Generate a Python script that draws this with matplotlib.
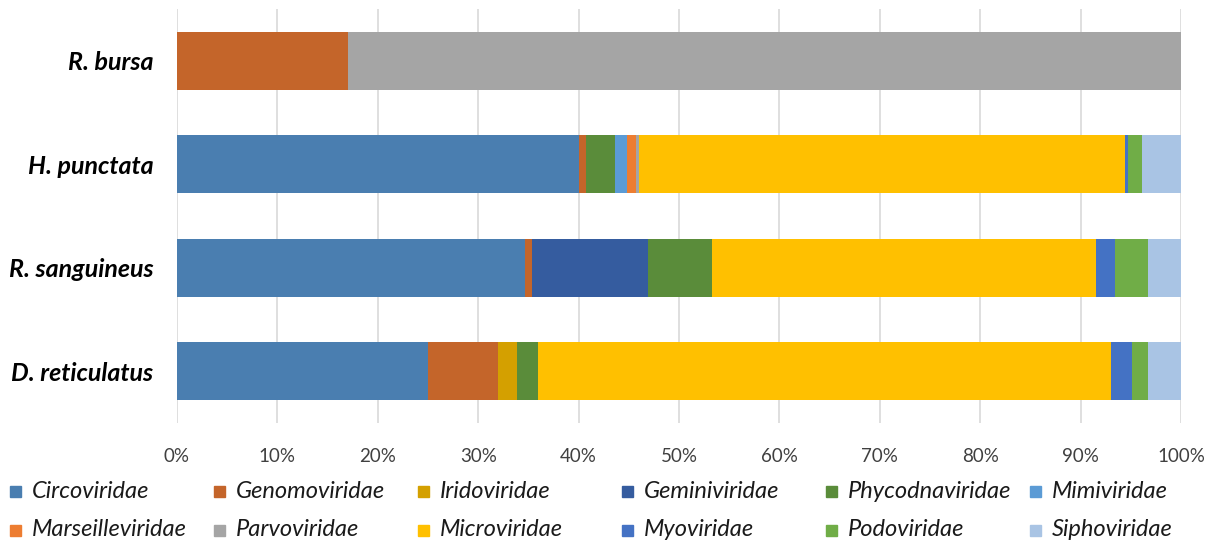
import numpy as np
import matplotlib.pyplot as plt
from matplotlib.patches import Rectangle

plt.rcParams['font.family'] = ['Lato', 'DejaVu Sans']

species = ['R. bursa', 'H. punctata', 'R. sanguineus', 'D. reticulatus']

# relative abundance (%) of each viral family, in the order of species above
families = ['Circoviridae', 'Genomoviridae', 'Iridoviridae', 'Geminiviridae',
            'Phycodnaviridae', 'Mimiviridae', 'Marseilleviridae', 'Parvoviridae',
            'Microviridae', 'Myoviridae', 'Podoviridae', 'Siphoviridae']
circo = [0, 40.0, 34.7, 25.0]
genomo = [17.0, 0.7, 0.7, 7.0]
irido = [0, 0, 0, 1.9]
gemini = [0, 0, 11.5, 0]
phyco = [0, 2.9, 6.4, 2.1]
mimi = [0, 1.2, 0, 0]
marseille = [0, 0.9, 0, 0]
parvo = [83.0, 0.3, 0, 0]
micro = [0, 48.4, 38.2, 57.0]
myo = [0, 0.3, 1.9, 2.1]
podo = [0, 1.4, 3.3, 1.6]
sipho = [0, 4.0, 3.3, 3.3]

values = [circo, genomo, irido, gemini, phyco, mimi, marseille, parvo,
          micro, myo, podo, sipho]
colors = ['#4A7EB0', '#C4652A', '#D4A000', '#355C9F', '#5A8C3A', '#5B9BD5',
          '#ED7D31', '#A5A5A5', '#FFC000', '#4472C4', '#70AD47', '#A9C4E4']

W, H = 1222, 544
fig = plt.figure(figsize=(W / 100, H / 100), dpi=100)
ax = fig.add_axes([177 / W, 1 - 423 / H, (1181 - 177) / W, (423 - 9) / H])

y = np.arange(len(species))
left = np.zeros(len(species))
for name, vals, c in zip(families, values, colors):
    vals = np.array(vals, dtype=float)
    ax.barh(y, vals, left=left, height=0.56, color=c, label=name, zorder=3)
    left += vals

ax.set_xlim(0, 100)
ax.set_ylim(3.5, -0.5)
ax.set_xticks(np.arange(0, 101, 10))
ax.set_xticklabels([f'{t}%' for t in range(0, 101, 10)])
ax.set_yticks(y)
ax.set_yticklabels(species, fontsize=18, fontweight='bold', fontstyle='italic')
ax.tick_params(axis='x', length=0, pad=18, labelsize=13.5, labelcolor='#404040')
ax.tick_params(axis='y', length=0, pad=17)
ax.grid(axis='x', color='#D9D9D9', linewidth=1.2, zorder=0)
for s in ax.spines.values():
    s.set_visible(False)

# legend: 6 equal-width columns, 2 rows, filled row by row
col_x = [10 + 204 * i for i in range(6)]
row_y = [491, 530]
sq = 11
for i, (name, c) in enumerate(zip(families, colors)):
    x0 = col_x[i % 6]
    yc = row_y[i // 6]
    fig.patches.append(Rectangle((x0 / W, 1 - (yc + sq / 2) / H), sq / W, sq / H,
                                 transform=fig.transFigure, color=c))
    fig.text((x0 + 22) / W, 1 - yc / H, name, fontsize=17, fontstyle='italic',
             color='#1a1a1a', va='center', ha='left')

fig.savefig('out.png', dpi=100)
